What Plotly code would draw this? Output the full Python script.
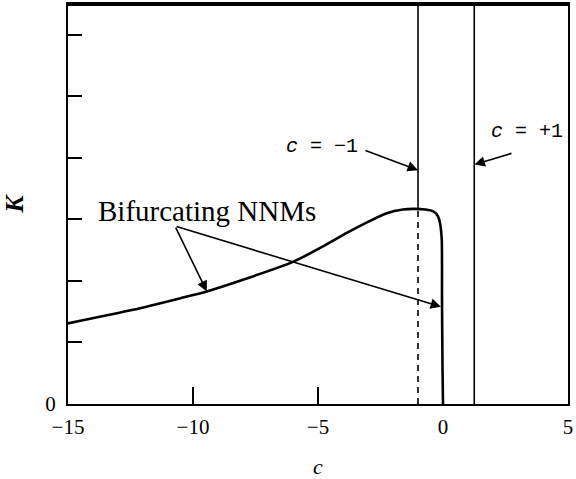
import plotly.graph_objects as go

# curve data (c, K)
c_vals = [-15.0, -12.4, -10.5, -9.45, -8.0, -6.0, -4.8, -3.85, -3.0, -2.25, -1.6, -1.19, -0.7, -0.39, -0.2, -0.12, -0.05, -0.04, -0.02, 0.0]
k_vals = [1.31, 1.53, 1.72, 1.83, 2.02, 2.31, 2.56, 2.78, 2.96, 3.10, 3.16, 3.17, 3.16, 3.13, 3.05, 2.94, 2.67, 1.69, 0.6, 0.0]

x_ticks = [-15, -10, -5, 0, 5]
x_tick_text = ["\u221215", "\u221210", "\u22125", "0", "5"]
y_ticks = [0, 1, 2, 3, 4, 5, 6]
y_tick_text = ["0", "", "", "", "", "", ""]

c_minus = -1.0
c_plus = 1.25
k_peak = 3.17

fig = go.Figure()
fig.add_trace(go.Scatter(x=c_vals, y=k_vals, mode="lines",
                         line=dict(color="black", width=2.6, shape="spline", smoothing=0.6),
                         showlegend=False, hoverinfo="skip"))
# vertical lines
fig.add_trace(go.Scatter(x=[c_minus, c_minus], y=[k_peak, 6.5], mode="lines",
                         line=dict(color="black", width=1.6), showlegend=False))
fig.add_trace(go.Scatter(x=[c_minus, c_minus], y=[0, k_peak], mode="lines",
                         line=dict(color="black", width=1.6, dash="6px,5px"), showlegend=False))
fig.add_trace(go.Scatter(x=[c_plus, c_plus], y=[0, 6.5], mode="lines",
                         line=dict(color="black", width=1.6), showlegend=False))

serif = "Liberation Serif, Times New Roman, serif"
mono = "Liberation Mono, Courier New, monospace"

ann = []
ann.append(dict(x=-9.44, y=3.14, xref="x", yref="y", text="Bifurcating NNMs", showarrow=False,
                font=dict(family=serif, size=29, color="black")))
for tip in [(-9.45, 1.83), (-0.08, 1.58)]:
    ann.append(dict(x=tip[0], y=tip[1], ax=-10.72, ay=2.89, xref="x", yref="y", axref="x", ayref="y",
                    text="", showarrow=True, arrowhead=2, arrowsize=1.3, arrowwidth=1.6, arrowcolor="black"))
ann.append(dict(x=-4.85, y=4.18, xref="x", yref="y", text="<i>c</i> = \u22121", showarrow=False,
                font=dict(family=mono, size=20, color="black")))
ann.append(dict(x=-1.0, y=3.80, ax=-3.16, ay=4.13, xref="x", yref="y", axref="x", ayref="y",
                text="", showarrow=True, arrowhead=2, arrowsize=1.3, arrowwidth=1.6, arrowcolor="black"))
ann.append(dict(x=3.35, y=4.43, xref="x", yref="y", text="<i>c</i> = +1", showarrow=False,
                font=dict(family=mono, size=20, color="black")))
ann.append(dict(x=1.26, y=3.89, ax=2.8, ay=4.08, xref="x", yref="y", axref="x", ayref="y",
                text="", showarrow=True, arrowhead=2, arrowsize=1.3, arrowwidth=1.6, arrowcolor="black"))

fig.update_layout(
    width=576, height=479,
    margin=dict(l=68, r=8, t=4, b=75, autoexpand=False),
    plot_bgcolor="white", paper_bgcolor="white",
    annotations=ann,
    shapes=[dict(type="line", xref="paper", yref="paper", x0=0, x1=1, y0=1, y1=1,
                 line=dict(color="black", width=4))],
    xaxis=dict(range=[-15, 5], tickvals=x_ticks, ticktext=x_tick_text, ticks="inside", ticklen=17,
               tickwidth=1.6, tickcolor="black", showline=True, linecolor="black", linewidth=2,
               mirror=True, showgrid=False, zeroline=False, automargin=False, ticklabelstandoff=3,
               tickfont=dict(family=serif, size=21, color="black"),
               title=dict(text="<i>c</i>", font=dict(family=serif, size=22, color="black"), standoff=22)),
    yaxis=dict(range=[0, 6.5], tickvals=y_ticks, ticktext=y_tick_text, ticks="inside", ticklen=14,
               tickwidth=1.6, tickcolor="black", showline=True, linecolor="black", linewidth=2,
               mirror=True, showgrid=False, zeroline=False, automargin=False, ticklabelstandoff=6,
               tickfont=dict(family=serif, size=21, color="black"),
               title=dict(text="<b><i>K</i></b>", font=dict(family=serif, size=26, color="black"), standoff=22)),
)

fig.write_html("out.html", config={"displayModeBar": False},
               post_script="document.body.style.margin='0';")
